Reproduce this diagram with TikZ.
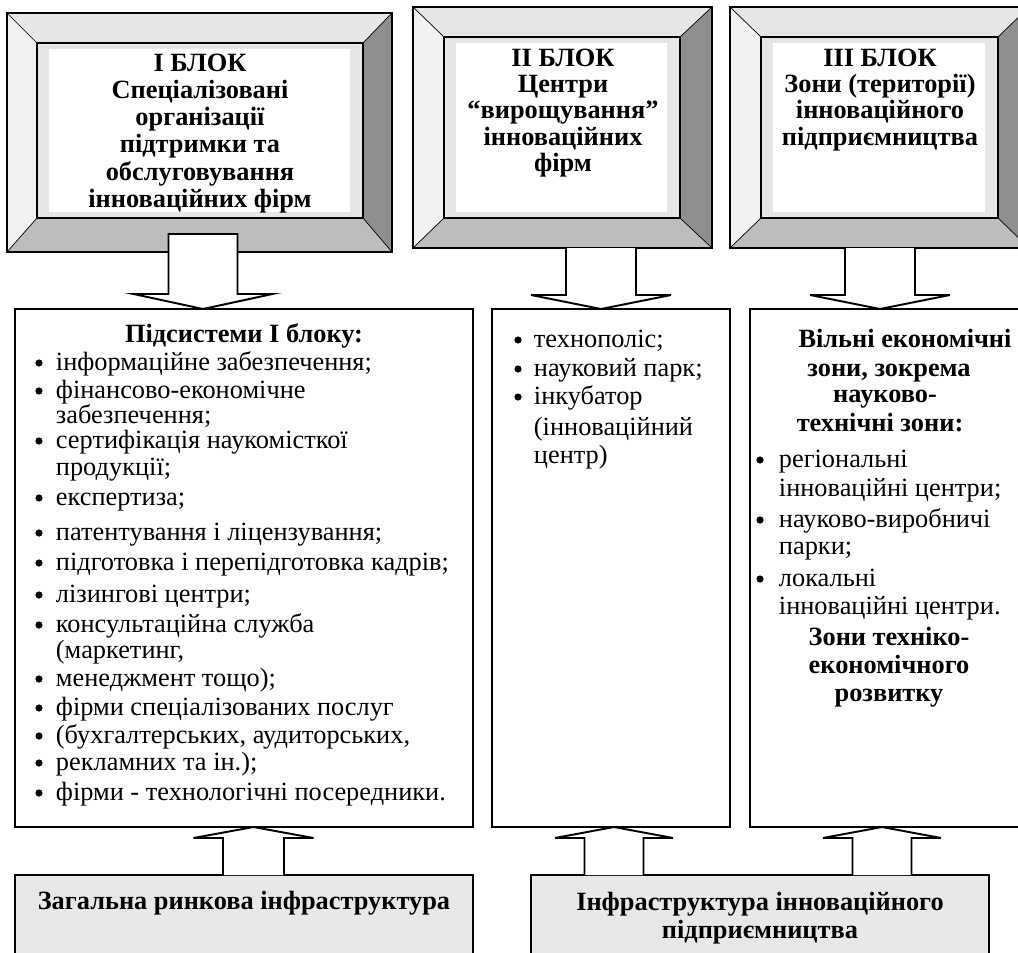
\documentclass[tikz,border=0pt]{standalone}
\usepackage{fontspec}
\setmainfont{Liberation Serif}
\usetikzlibrary{fit}
\definecolor{bvtop}{HTML}{E6E6E6}
\definecolor{bvleft}{HTML}{F2F2F2}
\definecolor{bvbot}{HTML}{BDBDBD}
\definecolor{bvright}{HTML}{8F8F8F}
\definecolor{innergray}{HTML}{E6E6E6}
\definecolor{boxgray}{HTML}{E8E8E8}
\newcommand\bevelframe[8]{%
  \fill[bvtop] (#1,#2) -- (#3,#2) -- (#7,#6) -- (#5,#6) -- cycle;
  \fill[bvleft] (#1,#2) -- (#5,#6) -- (#5,#8) -- (#1,#4) -- cycle;
  \fill[bvright] (#3,#2) -- (#3,#4) -- (#7,#8) -- (#7,#6) -- cycle;
  \fill[bvbot] (#1,#4) -- (#5,#8) -- (#7,#8) -- (#3,#4) -- cycle;
  \fill[innergray] (#5,#6) rectangle (#7,#8);
  \fill[white] (#5+12,#6+6) rectangle (#7-13,#8-6);
  \draw[thin] (#1,#2) -- (#5,#6) (#3,#2) -- (#7,#6) (#1,#4) -- (#5,#8) (#3,#4) -- (#7,#8);
  \draw (#1,#2) rectangle (#3,#4);
  \draw (#5,#6) rectangle (#7,#8);
}
% cx, ytop, yshoulder, ytip, shaft half, head half
\newcommand\blockarrow[6]{%
  \filldraw[arr] (#1-#5,#2) -- (#1-#5,#3) -- (#1-#6,#3) -- (#1,#4) -- (#1+#6,#3) -- (#1+#5,#3) -- (#1+#5,#2);
}
\newcommand\bul[2]{\fill (#1,#2-7) circle (3.6);}
\begin{document}
\begin{tikzpicture}[x=0.02cm,y=-0.02cm,line width=1.1pt,line join=miter,
  txt/.style={font=\fontsize{15}{16}\selectfont,inner sep=0pt,anchor=base west},
  ctr/.style={font=\fontsize{15}{16}\selectfont\bfseries,inner sep=0pt,anchor=base},
  arr/.style={draw=black,fill=white},
  listbox/.style={draw=black,fill=white},
  infbox/.style={draw=black,fill=boxgray}]
\useasboundingbox (0,0) rectangle (1018,953);
\clip (0,0) rectangle (1018,953);
\fill[white] (0,0) rectangle (1018,953);

% ---- bevelled blocks
\bevelframe{7}{13}{392}{252}{37}{43}{363}{218}
\bevelframe{413}{7}{712}{248}{444}{37}{680}{218}
\bevelframe{730}{7}{1029}{248}{761}{37}{998}{218}
\node[inner sep=0pt,fit={(7,13) (392,252)}] (f1) {};

% block texts
\node[ctr] (a1) at (200,72) {І БЛОК};
\node[ctr] (a2) at (200,99) {Спеціалізовані};
\node[ctr] (a3) at (200,126) {організації};
\node[ctr] (a4) at (200,153) {підтримки та};
\node[ctr] (a5) at (200,180) {обслуговування};
\node[ctr] (a6) at (200,207) {інноваційних фірм};

\node[ctr] (b1) at (563,67) {ІІ БЛОК};
\node[ctr] (b2) at (563,93) {Центри};
\node[ctr] (b3) at (563,119) {“вирощування”};
\node[ctr] (b4) at (563,146) {інноваційних};
\node[ctr] (b5) at (563,172) {фірм};

\node[ctr] (c1) at (880,67) {ІІІ БЛОК};
\node[ctr] (c2) at (880,93) {Зони (території)};
\node[ctr] (c3) at (880,119) {інноваційного};
\node[ctr] (c4) at (880,146) {підприємництва};

% ---- arrows down
\filldraw[arr] (203-34.5,234) -- (203-34.5,294) -- (203-69.5,294) -- (203,309) -- (203+69.5,294) -- (203+34.5,294) -- (203+34.5,234) -- cycle;
\blockarrow{601}{248}{295}{309}{35}{70}
\blockarrow{880}{248}{295}{309}{35}{70}

% ---- list boxes
\draw[listbox] (15,309) rectangle (473,827);
\draw[listbox] (492,309) rectangle (730,827);
\draw[listbox] (750,309) rectangle (1040,827);

% box I
\node[ctr] (h1) at (244,342) {Підсистеми І блоку:};
\foreach \y in {370,398,448,505,540,570,602,632,686,715,743,770,800}{\bul{39}{\y}}
\node[txt] (l1) at (55,370) {інформаційне забезпечення;};
\node[txt] (l2) at (55,398) {фінансово-економічне};
\node[txt] (l3) at (55,423) {забезпечення;};
\node[txt] (l4) at (55,448) {сертифікація наукомісткої};
\node[txt] (l5) at (55,475) {продукції;};
\node[txt] (l6) at (55,505) {експертиза;};
\node[txt] (l7) at (55,540) {патентування і ліцензування;};
\node[txt] (l8) at (55,570) {підготовка і перепідготовка кадрів;};
\node[txt] (l9) at (55,602) {лізингові центри;};
\node[txt] (l10) at (55,632) {консультаційна служба};
\node[txt] (l11) at (55,658) {(маркетинг,};
\node[txt] (l12) at (55,686) {менеджмент тощо);};
\node[txt] (l13) at (55,715) {фірми спеціалізованих послуг};
\node[txt] (l14) at (55,743) {(бухгалтерських, аудиторських,};
\node[txt] (l15) at (55,770) {рекламних та ін.);};
\node[txt] (l16) at (55,800) {фірми - технологічні посередники.};

% box II
\foreach \y in {347,376,404}{\bul{518}{\y}}
\node[txt] (m1) at (533,347) {технополіс;};
\node[txt] (m2) at (533,376) {науковий парк;};
\node[txt] (m3) at (533,404) {інкубатор};
\node[txt] (m4) at (533,435) {(інноваційний};
\node[txt] (m5) at (533,463) {центр)};

% box III
\node[ctr] (n1) at (905,347) {Вільні економічні};
\node[ctr] (n2) at (889,376) {зони, зокрема};
\node[ctr] (n3) at (885,402) {науково-};
\node[ctr] (n4) at (880,431) {технічні зони:};
\foreach \y in {467,527,586}{\bul{760}{\y}}
\node[txt] (r1) at (778,467) {регіональні};
\node[txt] (r2) at (778,496) {інноваційні центри;};
\node[txt] (r3) at (778,527) {науково-виробничі};
\node[txt] (r4) at (778,554) {парки;};
\node[txt] (r5) at (778,586) {локальні};
\node[txt] (r6) at (778,614) {інноваційні центри.};
\node[ctr] (n5) at (889,645) {Зони техніко-};
\node[ctr] (n6) at (889,673) {економічного};
\node[ctr] (n7) at (889,701) {розвитку};

% ---- bottom boxes
\draw[infbox] (15,875) rectangle (473,990);
\draw[infbox] (531,875) rectangle (989,990);
\node[ctr] (g1) at (244,909) {Загальна ринкова інфраструктура};
\node[ctr] (g2) at (760,910) {Інфраструктура інноваційного};
\node[ctr] (g3) at (760,938) {підприємництва};

% ---- arrows up
\blockarrow{253.5}{875}{838}{827}{30.5}{60}
\blockarrow{614}{875}{838}{827}{29.5}{59}
\blockarrow{882}{875}{838}{827}{29.5}{59}
\end{tikzpicture}
\end{document}
